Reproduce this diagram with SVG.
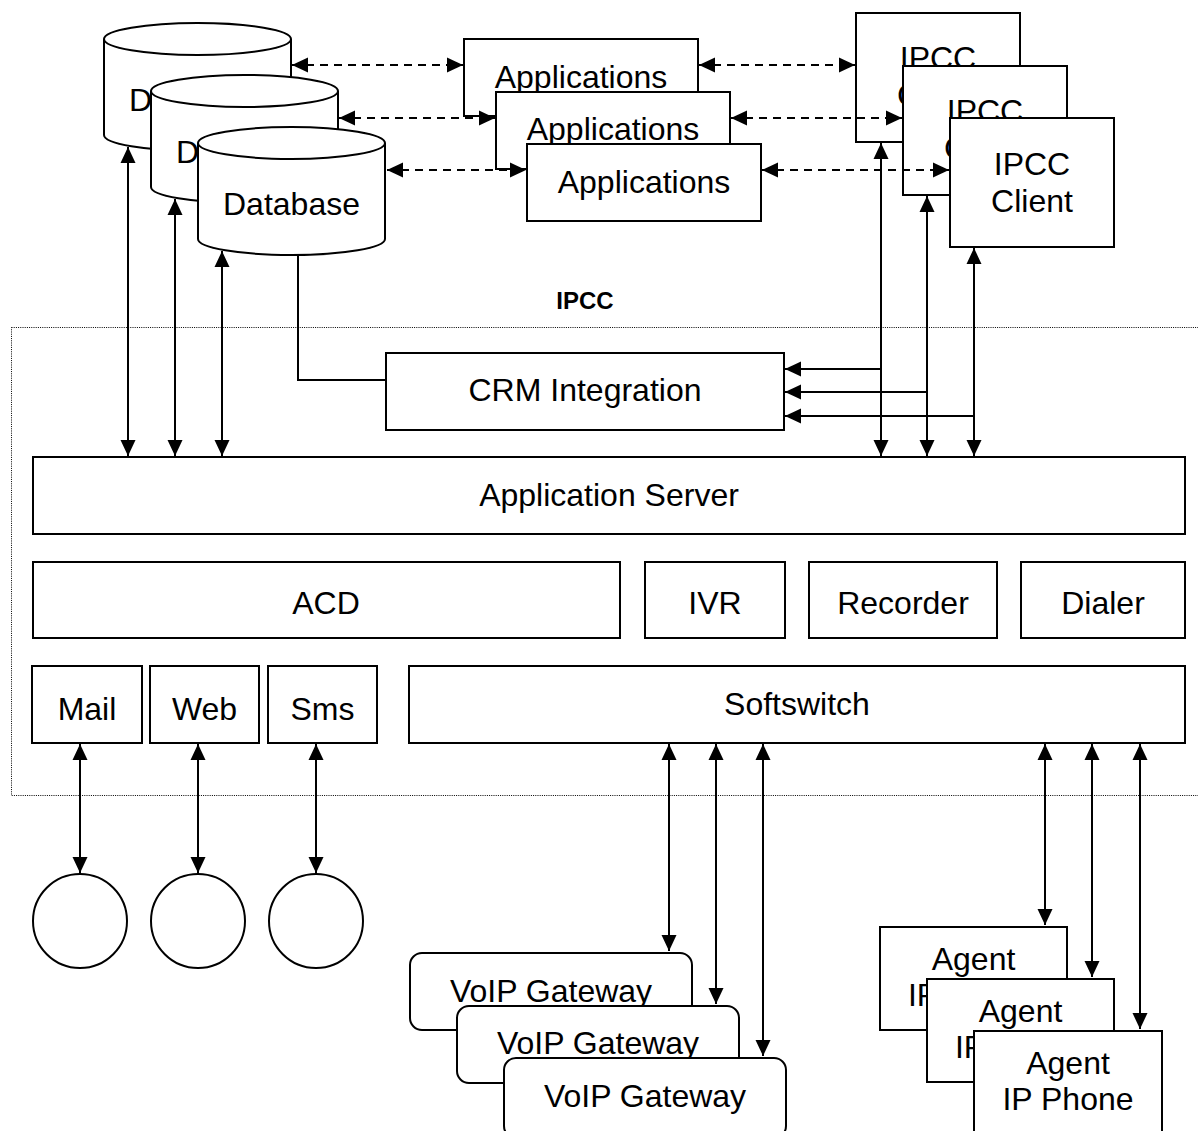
<svg xmlns="http://www.w3.org/2000/svg" width="1198" height="1131" viewBox="0 0 1198 1131">
  <style>
    .box { fill: #fff; stroke: #000; stroke-width: 2; }
    .t { font-family: "Liberation Sans", Arial, sans-serif; font-size: 32px; fill: #000; text-anchor: middle; }
    .title { font-family: "Liberation Sans", Arial, sans-serif; font-size: 24px; font-weight: bold; fill: #000; text-anchor: middle; }
    .ln { fill: none; stroke: #000; stroke-width: 2; }
    .dash { fill: none; stroke: #000; stroke-width: 2; stroke-dasharray: 8 6; }
    .bound { fill: none; stroke: #000; stroke-width: 1; stroke-dasharray: 1 1.2; }
  </style>
  <defs>
    <marker id="ah" markerUnits="userSpaceOnUse" markerWidth="17" markerHeight="16" refX="16" refY="8" orient="auto-start-reverse">
      <path d="M0,0.5 L16,8 L0,15.5 z" fill="#000"/>
    </marker>
    <g id="cyl">
      <path class="box" d="M0,16 v96 a93.5,16 0 0 0 187,0 v-96"/>
      <ellipse class="box" cx="93.5" cy="16" rx="93.5" ry="16"/>
    </g>
  </defs>
  <rect width="1198" height="1131" fill="#fff"/>

  <!-- IPCC system boundary -->
  <g id="ipcc-boundary">
    <rect class="bound" x="11.5" y="327.5" width="1190" height="468"/>
    <text class="title" x="585" y="309">IPCC</text>
  </g>

  <!-- databases -->
  <g id="db1" transform="translate(104,23)">
    <use href="#cyl"/>
    <text class="t" x="93.5" y="88">Database</text>
  </g>
  <g id="db2" transform="translate(151,75)">
    <use href="#cyl"/>
    <text class="t" x="93.5" y="88">Database</text>
  </g>
  <g id="db3" transform="translate(198,127)">
    <use href="#cyl"/>
    <text class="t" x="93.5" y="88">Database</text>
  </g>

  <!-- applications -->
  <g id="app1">
    <rect class="box" x="464" y="39" width="234" height="77"/>
    <text class="t" x="581" y="88">Applications</text>
  </g>
  <g id="app2">
    <rect class="box" x="496" y="92" width="234" height="77"/>
    <text class="t" x="613" y="140">Applications</text>
  </g>
  <g id="app3">
    <rect class="box" x="527" y="144" width="234" height="77"/>
    <text class="t" x="644" y="193">Applications</text>
  </g>

  <!-- IPCC clients -->
  <g id="client1">
    <rect class="box" x="856" y="13" width="164" height="129"/>
    <text class="t" x="938" y="69">IPCC</text>
    <text class="t" x="938" y="106">Client</text>
  </g>
  <g id="client2">
    <rect class="box" x="903" y="66" width="164" height="129"/>
    <text class="t" x="985" y="122">IPCC</text>
    <text class="t" x="985" y="159">Client</text>
  </g>
  <g id="client3">
    <rect class="box" x="950" y="118" width="164" height="129"/>
    <text class="t" x="1032" y="175">IPCC</text>
    <text class="t" x="1032" y="212">Client</text>
  </g>

  <g id="crm">
    <rect class="box" x="386" y="353" width="398" height="77"/>
    <text class="t" x="585" y="401">CRM Integration</text>
  </g>
  <g id="appserver">
    <rect class="box" x="33" y="457" width="1152" height="77"/>
    <text class="t" x="609" y="506">Application Server</text>
  </g>
  <g id="acd">
    <rect class="box" x="33" y="562" width="587" height="76"/>
    <text class="t" x="326" y="614">ACD</text>
  </g>
  <g id="ivr">
    <rect class="box" x="645" y="562" width="140" height="76"/>
    <text class="t" x="715" y="614">IVR</text>
  </g>
  <g id="recorder">
    <rect class="box" x="809" y="562" width="188" height="76"/>
    <text class="t" x="903" y="614">Recorder</text>
  </g>
  <g id="dialer">
    <rect class="box" x="1021" y="562" width="164" height="76"/>
    <text class="t" x="1103" y="614">Dialer</text>
  </g>
  <g id="mail">
    <rect class="box" x="32" y="666" width="110" height="77"/>
    <text class="t" x="87" y="720">Mail</text>
  </g>
  <g id="web">
    <rect class="box" x="150" y="666" width="109" height="77"/>
    <text class="t" x="204.5" y="720">Web</text>
  </g>
  <g id="sms">
    <rect class="box" x="268" y="666" width="109" height="77"/>
    <text class="t" x="322.5" y="720">Sms</text>
  </g>
  <g id="softswitch">
    <rect class="box" x="409" y="666" width="776" height="77"/>
    <text class="t" x="797" y="715">Softswitch</text>
  </g>

  <!-- channel endpoints -->
  <g id="mail-client"><ellipse class="box" cx="80" cy="921" rx="47" ry="47"/></g>
  <g id="web-client"><ellipse class="box" cx="198" cy="921" rx="47" ry="47"/></g>
  <g id="sms-client"><ellipse class="box" cx="316" cy="921" rx="47" ry="47"/></g>

  <!-- gateways -->
  <g id="gw1">
    <rect class="box" x="410" y="953" width="282" height="77" rx="12"/>
    <text class="t" x="551" y="1002">VoIP Gateway</text>
  </g>
  <g id="gw2">
    <rect class="box" x="457" y="1006" width="282" height="77" rx="12"/>
    <text class="t" x="598" y="1054">VoIP Gateway</text>
  </g>
  <g id="gw3">
    <rect class="box" x="504" y="1058" width="282" height="80" rx="12"/>
    <text class="t" x="645" y="1107">VoIP Gateway</text>
  </g>

  <!-- agent phones -->
  <g id="phone1">
    <rect class="box" x="880" y="927" width="187" height="103"/>
    <text class="t" x="973.5" y="970">Agent</text>
    <text class="t" x="973.5" y="1006">IP Phone</text>
  </g>
  <g id="phone2">
    <rect class="box" x="927" y="979" width="187" height="103"/>
    <text class="t" x="1020.5" y="1022">Agent</text>
    <text class="t" x="1020.5" y="1058">IP Phone</text>
  </g>
  <g id="phone3">
    <rect class="box" x="974" y="1031" width="188" height="106"/>
    <text class="t" x="1068" y="1074">Agent</text>
    <text class="t" x="1068" y="1110">IP Phone</text>
  </g>

  <!-- connectors -->
  <g id="connectors">
    <!-- database <-> applications -->
    <line class="dash" x1="292" y1="65" x2="463" y2="65" marker-start="url(#ah)" marker-end="url(#ah)"/>
    <line class="dash" x1="339" y1="118" x2="495" y2="118" marker-start="url(#ah)" marker-end="url(#ah)"/>
    <line class="dash" x1="387" y1="170" x2="526" y2="170" marker-start="url(#ah)" marker-end="url(#ah)"/>
    <!-- applications <-> clients -->
    <line class="dash" x1="699" y1="65" x2="855" y2="65" marker-start="url(#ah)" marker-end="url(#ah)"/>
    <line class="dash" x1="731" y1="118" x2="902" y2="118" marker-start="url(#ah)" marker-end="url(#ah)"/>
    <line class="dash" x1="762" y1="170" x2="949" y2="170" marker-start="url(#ah)" marker-end="url(#ah)"/>

    <!-- databases <-> application server -->
    <line class="ln" x1="128" y1="147" x2="128" y2="456" marker-start="url(#ah)" marker-end="url(#ah)"/>
    <line class="ln" x1="175" y1="199" x2="175" y2="456" marker-start="url(#ah)" marker-end="url(#ah)"/>
    <line class="ln" x1="222" y1="251" x2="222" y2="456" marker-start="url(#ah)" marker-end="url(#ah)"/>
    <!-- database to CRM -->
    <polyline class="ln" points="298,255 298,380 386,380"/>

    <!-- clients <-> application server -->
    <line class="ln" x1="881" y1="143" x2="881" y2="456" marker-start="url(#ah)" marker-end="url(#ah)"/>
    <line class="ln" x1="927" y1="196" x2="927" y2="456" marker-start="url(#ah)" marker-end="url(#ah)"/>
    <line class="ln" x1="974" y1="248" x2="974" y2="456" marker-start="url(#ah)" marker-end="url(#ah)"/>
    <!-- clients to CRM -->
    <line class="ln" x1="881" y1="369" x2="785" y2="369" marker-end="url(#ah)"/>
    <line class="ln" x1="927" y1="392" x2="785" y2="392" marker-end="url(#ah)"/>
    <line class="ln" x1="974" y1="416" x2="785" y2="416" marker-end="url(#ah)"/>

    <!-- channels -->
    <line class="ln" x1="80" y1="744" x2="80" y2="873" marker-start="url(#ah)" marker-end="url(#ah)"/>
    <line class="ln" x1="198" y1="744" x2="198" y2="873" marker-start="url(#ah)" marker-end="url(#ah)"/>
    <line class="ln" x1="316" y1="744" x2="316" y2="873" marker-start="url(#ah)" marker-end="url(#ah)"/>

    <!-- softswitch <-> gateways -->
    <line class="ln" x1="669" y1="744" x2="669" y2="951" marker-start="url(#ah)" marker-end="url(#ah)"/>
    <line class="ln" x1="716" y1="744" x2="716" y2="1004" marker-start="url(#ah)" marker-end="url(#ah)"/>
    <line class="ln" x1="763" y1="744" x2="763" y2="1056" marker-start="url(#ah)" marker-end="url(#ah)"/>

    <!-- softswitch <-> phones -->
    <line class="ln" x1="1045" y1="744" x2="1045" y2="925" marker-start="url(#ah)" marker-end="url(#ah)"/>
    <line class="ln" x1="1092" y1="744" x2="1092" y2="977" marker-start="url(#ah)" marker-end="url(#ah)"/>
    <line class="ln" x1="1140" y1="744" x2="1140" y2="1029" marker-start="url(#ah)" marker-end="url(#ah)"/>
  </g>
</svg>
